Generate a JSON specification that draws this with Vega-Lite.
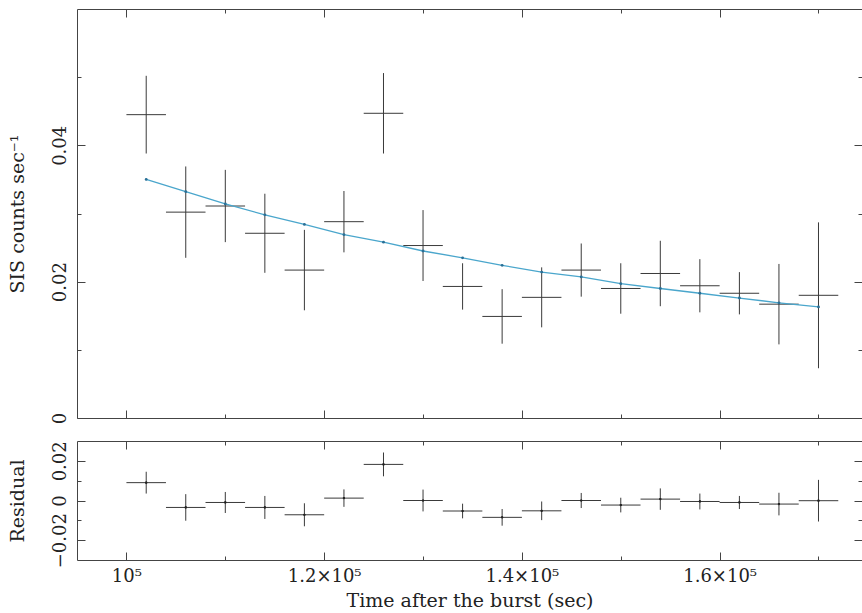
{
  "$schema": "https://vega.github.io/schema/vega-lite/v6.json",
  "padding": {"left": 8, "top": 8, "right": 0, "bottom": 0},
  "background": "white",
  "config": {
    "view": {"stroke": null},
    "font": "DejaVu Serif",
    "axis": {
      "grid": false, "domainColor": "#444", "tickColor": "#444", "labelColor": "#222", "titleColor": "#222",
      "labelFont": "DejaVu Serif", "titleFont": "DejaVu Serif", "labelFontSize": 18, "titleFontSize": 19,
      "titleFontWeight": "normal", "tickSize": -8, "domainWidth": 1, "tickWidth": 1, "labelFlush": false, "labelOverlap": false
    }
  },
  "data": {"values": [
    {"t": 102000, "t0": 100000, "t1": 104000, "rate": 0.0445, "rate_lo": 0.0388, "rate_hi": 0.0502, "model": 0.0350, "res": 0.0090, "res_lo": 0.0035, "res_hi": 0.0145},
    {"t": 106000, "t0": 104000, "t1": 108000, "rate": 0.0302, "rate_lo": 0.0235, "rate_hi": 0.0369, "model": 0.0332, "res": -0.0035, "res_lo": -0.0102, "res_hi": 0.0032},
    {"t": 110000, "t0": 108000, "t1": 112000, "rate": 0.0311, "rate_lo": 0.0258, "rate_hi": 0.0364, "model": 0.0314, "res": -0.0010, "res_lo": -0.0063, "res_hi": 0.0043},
    {"t": 114000, "t0": 112000, "t1": 116000, "rate": 0.0271, "rate_lo": 0.0213, "rate_hi": 0.0329, "model": 0.0298, "res": -0.0035, "res_lo": -0.0093, "res_hi": 0.0023},
    {"t": 118000, "t0": 116000, "t1": 120000, "rate": 0.0217, "rate_lo": 0.0158, "rate_hi": 0.0276, "model": 0.0284, "res": -0.0072, "res_lo": -0.0130, "res_hi": -0.0014},
    {"t": 122000, "t0": 120000, "t1": 124000, "rate": 0.0288, "rate_lo": 0.0243, "rate_hi": 0.0333, "model": 0.0269, "res": 0.0012, "res_lo": -0.0032, "res_hi": 0.0056},
    {"t": 126000, "t0": 124000, "t1": 128000, "rate": 0.0447, "rate_lo": 0.0388, "rate_hi": 0.0506, "model": 0.0258, "res": 0.0182, "res_lo": 0.0122, "res_hi": 0.0242},
    {"t": 130000, "t0": 128000, "t1": 132000, "rate": 0.0253, "rate_lo": 0.0201, "rate_hi": 0.0305, "model": 0.0245, "res": 0.0000, "res_lo": -0.0055, "res_hi": 0.0055},
    {"t": 134000, "t0": 132000, "t1": 136000, "rate": 0.0193, "rate_lo": 0.0159, "rate_hi": 0.0227, "model": 0.0235, "res": -0.0053, "res_lo": -0.0090, "res_hi": -0.0016},
    {"t": 138000, "t0": 136000, "t1": 140000, "rate": 0.0149, "rate_lo": 0.0109, "rate_hi": 0.0189, "model": 0.0224, "res": -0.0085, "res_lo": -0.0127, "res_hi": -0.0043},
    {"t": 142000, "t0": 140000, "t1": 144000, "rate": 0.0177, "rate_lo": 0.0133, "rate_hi": 0.0221, "model": 0.0214, "res": -0.0052, "res_lo": -0.0099, "res_hi": -0.0005},
    {"t": 146000, "t0": 144000, "t1": 148000, "rate": 0.0217, "rate_lo": 0.0178, "rate_hi": 0.0256, "model": 0.0207, "res": 0.0000, "res_lo": -0.0038, "res_hi": 0.0038},
    {"t": 150000, "t0": 148000, "t1": 152000, "rate": 0.0190, "rate_lo": 0.0153, "rate_hi": 0.0227, "model": 0.0197, "res": -0.0023, "res_lo": -0.0060, "res_hi": 0.0014},
    {"t": 154000, "t0": 152000, "t1": 156000, "rate": 0.0212, "rate_lo": 0.0164, "rate_hi": 0.0260, "model": 0.0190, "res": 0.0007, "res_lo": -0.0047, "res_hi": 0.0061},
    {"t": 158000, "t0": 156000, "t1": 160000, "rate": 0.0194, "rate_lo": 0.0155, "rate_hi": 0.0233, "model": 0.0183, "res": -0.0005, "res_lo": -0.0045, "res_hi": 0.0035},
    {"t": 162000, "t0": 160000, "t1": 164000, "rate": 0.0183, "rate_lo": 0.0152, "rate_hi": 0.0214, "model": 0.0176, "res": -0.0010, "res_lo": -0.0043, "res_hi": 0.0023},
    {"t": 166000, "t0": 164000, "t1": 168000, "rate": 0.0167, "rate_lo": 0.0108, "rate_hi": 0.0226, "model": 0.0169, "res": -0.0018, "res_lo": -0.0075, "res_hi": 0.0039},
    {"t": 170000, "t0": 168000, "t1": 172000, "rate": 0.0180, "rate_lo": 0.0073, "rate_hi": 0.0287, "model": 0.0163, "res": -0.0001, "res_lo": -0.0106, "res_hi": 0.0104}
  ]},
  "spacing": 16,
  "vconcat": [
    {
      "width": 785, "height": 409,
      "resolve": {"axis": {"x": "independent", "y": "independent"}},
      "layer": [
        {
          "mark": {"type": "rule", "color": "#3a3a3a", "strokeWidth": 1},
          "encoding": {
            "x": {"field": "t", "type": "quantitative", "scale": {"domain": [95000, 174400], "nice": false, "zero": false},
                  "axis": {"orient": "bottom", "values": [100000, 120000, 140000, 160000], "labels": false, "title": null}},
            "y": {"field": "rate_lo", "type": "quantitative", "scale": {"domain": [0, 0.06], "nice": false},
                  "axis": {"orient": "left", "values": [0, 0.02, 0.04], "format": "~g", "labelAngle": -90, "labelAlign": "center", "labelBaseline": "alphabetic", "labelPadding": 20, "title": "SIS counts sec⁻¹", "titlePadding": 24}},
            "y2": {"field": "rate_hi"}
          }
        },
        {
          "mark": {"type": "rule", "color": "#3a3a3a", "strokeWidth": 1},
          "encoding": {
            "x": {"field": "t0", "type": "quantitative", "scale": {"domain": [95000, 174400], "nice": false, "zero": false},
                  "axis": {"orient": "top", "values": [100000, 120000, 140000, 160000], "labels": false, "title": null}},
            "x2": {"field": "t1"},
            "y": {"field": "rate", "type": "quantitative", "scale": {"domain": [0, 0.06], "nice": false},
                  "axis": {"orient": "right", "values": [0, 0.02, 0.04], "labels": false, "title": null}}
          }
        },
        {
          "mark": {"type": "line", "color": "#4aa6cc", "strokeWidth": 1.3},
          "encoding": {
            "x": {"field": "t", "type": "quantitative", "scale": {"domain": [95000, 174400], "nice": false, "zero": false},
                  "axis": {"orient": "bottom", "values": [110000, 130000, 150000, 170000], "labels": false, "title": null, "domain": false, "tickSize": -4}},
            "y": {"field": "model", "type": "quantitative", "scale": {"domain": [0, 0.06], "nice": false},
                  "axis": {"orient": "left", "values": [0.01, 0.03, 0.05], "labels": false, "title": null, "domain": false, "tickSize": -4}}
          }
        },
        {
          "mark": {"type": "circle", "color": "#2a6f96", "size": 8, "opacity": 1},
          "encoding": {
            "x": {"field": "t", "type": "quantitative", "scale": {"domain": [95000, 174400], "nice": false, "zero": false},
                  "axis": {"orient": "top", "values": [110000, 130000, 150000, 170000], "labels": false, "title": null, "domain": false, "tickSize": -4}},
            "y": {"field": "model", "type": "quantitative", "scale": {"domain": [0, 0.06], "nice": false},
                  "axis": {"orient": "right", "values": [0.01, 0.03, 0.05], "labels": false, "title": null, "domain": false, "tickSize": -4}}
          }
        }
      ]
    },
    {
      "width": 785, "height": 119,
      "resolve": {"axis": {"x": "independent", "y": "independent"}},
      "layer": [
        {
          "mark": {"type": "rule", "color": "#3a3a3a", "strokeWidth": 1},
          "encoding": {
            "x": {"field": "t", "type": "quantitative", "scale": {"domain": [95000, 174400], "nice": false, "zero": false},
                  "axis": {"orient": "bottom", "values": [100000, 120000, 140000, 160000], "labelExpr": "datum.value == 100000 ? '10⁵' : format(datum.value / 100000, '.1f') + '×10⁵'", "labelPadding": 15, "title": "Time after the burst (sec)", "titlePadding": 6}},
            "y": {"field": "res_lo", "type": "quantitative", "scale": {"domain": [-0.03, 0.03], "nice": false},
                  "axis": {"orient": "left", "values": [-0.02, 0, 0.02], "format": "~g", "labelAngle": -90, "labelAlign": "center", "labelBaseline": "alphabetic", "labelPadding": 20, "title": "Residual", "titlePadding": 24}},
            "y2": {"field": "res_hi"}
          }
        },
        {
          "mark": {"type": "rule", "color": "#3a3a3a", "strokeWidth": 1},
          "encoding": {
            "x": {"field": "t0", "type": "quantitative", "scale": {"domain": [95000, 174400], "nice": false, "zero": false},
                  "axis": {"orient": "top", "values": [100000, 120000, 140000, 160000], "labels": false, "title": null}},
            "x2": {"field": "t1"},
            "y": {"field": "res", "type": "quantitative", "scale": {"domain": [-0.03, 0.03], "nice": false},
                  "axis": {"orient": "right", "values": [-0.02, 0, 0.02], "labels": false, "title": null}}
          }
        },
        {
          "mark": {"type": "circle", "color": "#222", "size": 5, "opacity": 1},
          "encoding": {
            "x": {"field": "t", "type": "quantitative", "scale": {"domain": [95000, 174400], "nice": false, "zero": false},
                  "axis": {"orient": "bottom", "values": [110000, 130000, 150000, 170000], "labels": false, "title": null, "domain": false, "tickSize": -4}},
            "y": {"field": "res", "type": "quantitative", "scale": {"domain": [-0.03, 0.03], "nice": false},
                  "axis": {"orient": "left", "values": [-0.01, 0.01], "labels": false, "title": null, "domain": false, "tickSize": -4}}
          }
        },
        {
          "mark": {"type": "circle", "color": "#222", "size": 5, "opacity": 1},
          "encoding": {
            "x": {"field": "t", "type": "quantitative", "scale": {"domain": [95000, 174400], "nice": false, "zero": false},
                  "axis": {"orient": "top", "values": [110000, 130000, 150000, 170000], "labels": false, "title": null, "domain": false, "tickSize": -4}},
            "y": {"field": "res", "type": "quantitative", "scale": {"domain": [-0.03, 0.03], "nice": false},
                  "axis": {"orient": "right", "values": [-0.01, 0.01], "labels": false, "title": null, "domain": false, "tickSize": -4}}
          }
        }
      ]
    }
  ]
}
